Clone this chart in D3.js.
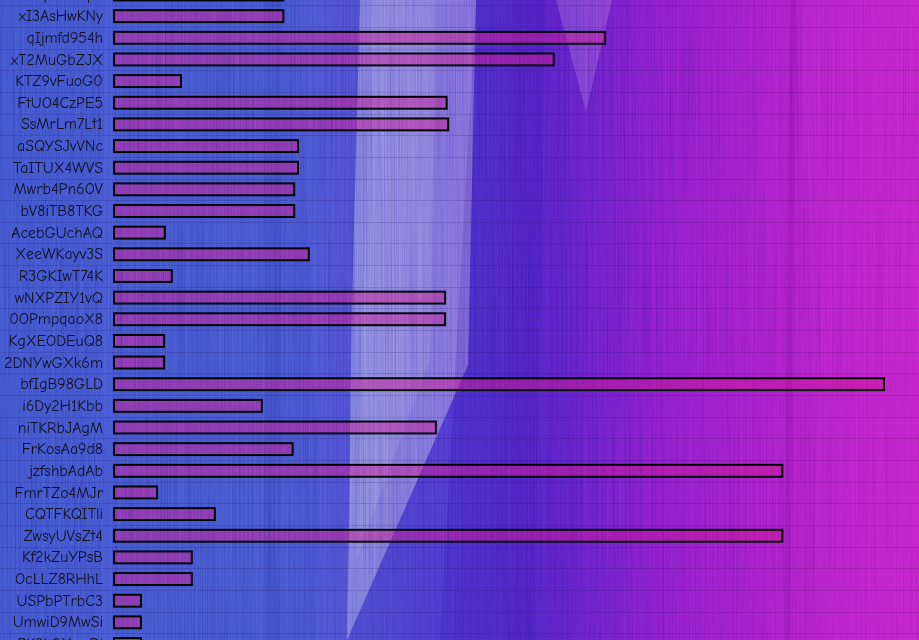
<!DOCTYPE html>
<html>
<head>
<meta charset="utf-8">
<script src="https://cdn.jsdelivr.net/npm/d3@7"></script>
<style>
  html, body { margin: 0; padding: 0; background: #3d4bc4; overflow: hidden; }
  svg { display: block; }
</style>
</head>
<body>
<svg id="chart" width="919" height="640"></svg>
<script>
// ---- data ----
const categories = [
  "hN7qWe2XpL",
  "xI3AsHwKNy", "qIjmfd954h", "xT2MuGbZJX", "KTZ9vFuoG0", "FtUO4CzPE5",
  "SsMrLm7Lt1", "aSQYSJvVNc", "TaITUX4WVS", "Mwrb4Pn6OV", "bV8iTB8TKG",
  "AcebGUchAQ", "XeeWKayv3S", "R3GKIwT74K", "wNXPZIY1vQ", "0OPmpqaoX8",
  "KgXEODEuQ8", "2DNYwGXk6m", "bfIgB98GLD", "i6Dy2H1Kbb", "niTKRbJAgM",
  "FrKosAa9d8", "jzfshbAdAb", "FmrTZo4MJr", "CQTFKQITli", "ZwsyUVsZt4",
  "Kf2kZuYPsB", "OcLLZ8RHhL", "USPbPTrbC3", "UmwiD9MwSi", "PK9L0XwzGi"
];
const values = [
  22.0,
  22.0, 63.8, 57.1, 8.7, 43.2,
  43.4, 23.9, 23.9, 23.4, 23.4,
  6.6, 25.3, 7.5, 43.0, 43.0,
  6.5, 6.5, 100.0, 19.2, 41.8,
  23.2, 86.8, 5.6, 13.1, 86.8,
  10.1, 10.1, 3.5, 3.5, 3.5
];
const xDomain = [0, 100];

// ---- layout ----
const W = 919, H = 640;
const plotLeft = 114, plotRight = 884;
const rowStep = 21.65;
const plotTop = -5.5 - rowStep / 2;

const svg = d3.select("#chart");
const defs = svg.append("defs");

// background gradient
const bg = defs.append("linearGradient").attr("id", "bgGrad")
  .attr("x1", 0).attr("x2", 1).attr("y1", 0).attr("y2", 0);
[
  [0.00, "#3c4ec6"], [0.30, "#4050c6"], [0.50, "#4832c6"], [0.60, "#5220c0"],
  [0.72, "#801cc4"], [0.86, "#a41ec2"], [1.00, "#b820c0"]
].forEach(([o, c]) => bg.append("stop").attr("offset", o).attr("stop-color", c));

// streak noise (gray, light and dark around the mean)
const f = defs.append("filter").attr("id", "streaks")
  .attr("x", 0).attr("y", 0).attr("width", "100%").attr("height", "100%");
f.append("feTurbulence").attr("type", "fractalNoise")
  .attr("baseFrequency", "1.1 0.005").attr("numOctaves", 2).attr("seed", 11);
f.append("feColorMatrix").attr("type", "matrix")
  .attr("values", "1 0 0 0 0  1 0 0 0 0  1 0 0 0 0  0 0 0 0 1");

svg.append("rect").attr("width", W).attr("height", H).attr("fill", "url(#bgGrad)");

// translucent shapes
const shapes = [
  { pts: [[360,0],[476,0],[468,365],[347,640],[352,300]], fill: "#ffffff", op: 0.25 },
  { pts: [[372,0],[436,0],[430,360],[356,560]], fill: "#ffffff", op: 0.07 },
  { pts: [[556,0],[612,0],[586,112]], fill: "#ffffff", op: 0.13 },
  { pts: [[300,0],[360,0],[352,640],[316,640]], fill: "#8080ff", op: 0.08 },
  { pts: [[264,0],[282,0],[280,640],[266,640]], fill: "#1a1090", op: 0.10 },
  { pts: [[100,0],[114,0],[114,640],[100,640]], fill: "#6070ff", op: 0.08 },
  { pts: [[476,0],[545,0],[535,640],[440,640]], fill: "#200090", op: 0.13 },
  { pts: [[790,0],[796,0],[790,640],[784,640]], fill: "#30007a", op: 0.14 },
  { pts: [[800,0],[919,0],[919,640],[820,640]], fill: "#ff40ff", op: 0.05 }
];
svg.append("g").selectAll("polygon").data(shapes).join("polygon")
  .attr("points", d => d.pts.map(p => p.join(",")).join(" "))
  .attr("fill", d => d.fill).attr("opacity", d => d.op);

// scales
const x = d3.scaleLinear().domain(xDomain).range([0, plotRight - plotLeft]);
const y = d3.scaleBand().domain(categories)
  .range([plotTop, plotTop + rowStep * categories.length])
  .paddingInner(0.45).paddingOuter(0.225);

// grid lines at band boundaries
svg.append("g").selectAll("line").data(categories).join("line")
  .attr("x1", 0).attr("x2", W)
  .attr("y1", d => Math.round(y(d) - y.step() * 0.225) + 0.5)
  .attr("y2", d => Math.round(y(d) - y.step() * 0.225) + 0.5)
  .attr("stroke", "#1a0840").attr("stroke-opacity", 0.16).attr("stroke-width", 1);

// bars
svg.append("g").attr("transform", `translate(${plotLeft},0)`)
  .selectAll("rect").data(categories).join("rect")
  .attr("x", 0)
  .attr("y", d => y(d))
  .attr("width", (d, i) => x(values[i]))
  .attr("height", y.bandwidth())
  .attr("fill", "#c8167e").attr("fill-opacity", 0.45)
  .attr("stroke", "#000").attr("stroke-width", 2);

// noise overlay
svg.append("rect").attr("width", W).attr("height", H)
  .attr("filter", "url(#streaks)").attr("opacity", 0.3)
  .style("mix-blend-mode", "overlay").style("pointer-events", "none");

// labels via axis
const ax = svg.append("g").attr("transform", `translate(${plotLeft},0)`)
  .call(d3.axisLeft(y).tickSize(0).tickPadding(11));
ax.select(".domain").remove();
ax.selectAll("text")
  .attr("fill", "#111122")
  .style("font-family", "'Comic Sans MS', 'Comic Neue', cursive")
  .style("font-size", "15.8px");
</script>
</body>
</html>
